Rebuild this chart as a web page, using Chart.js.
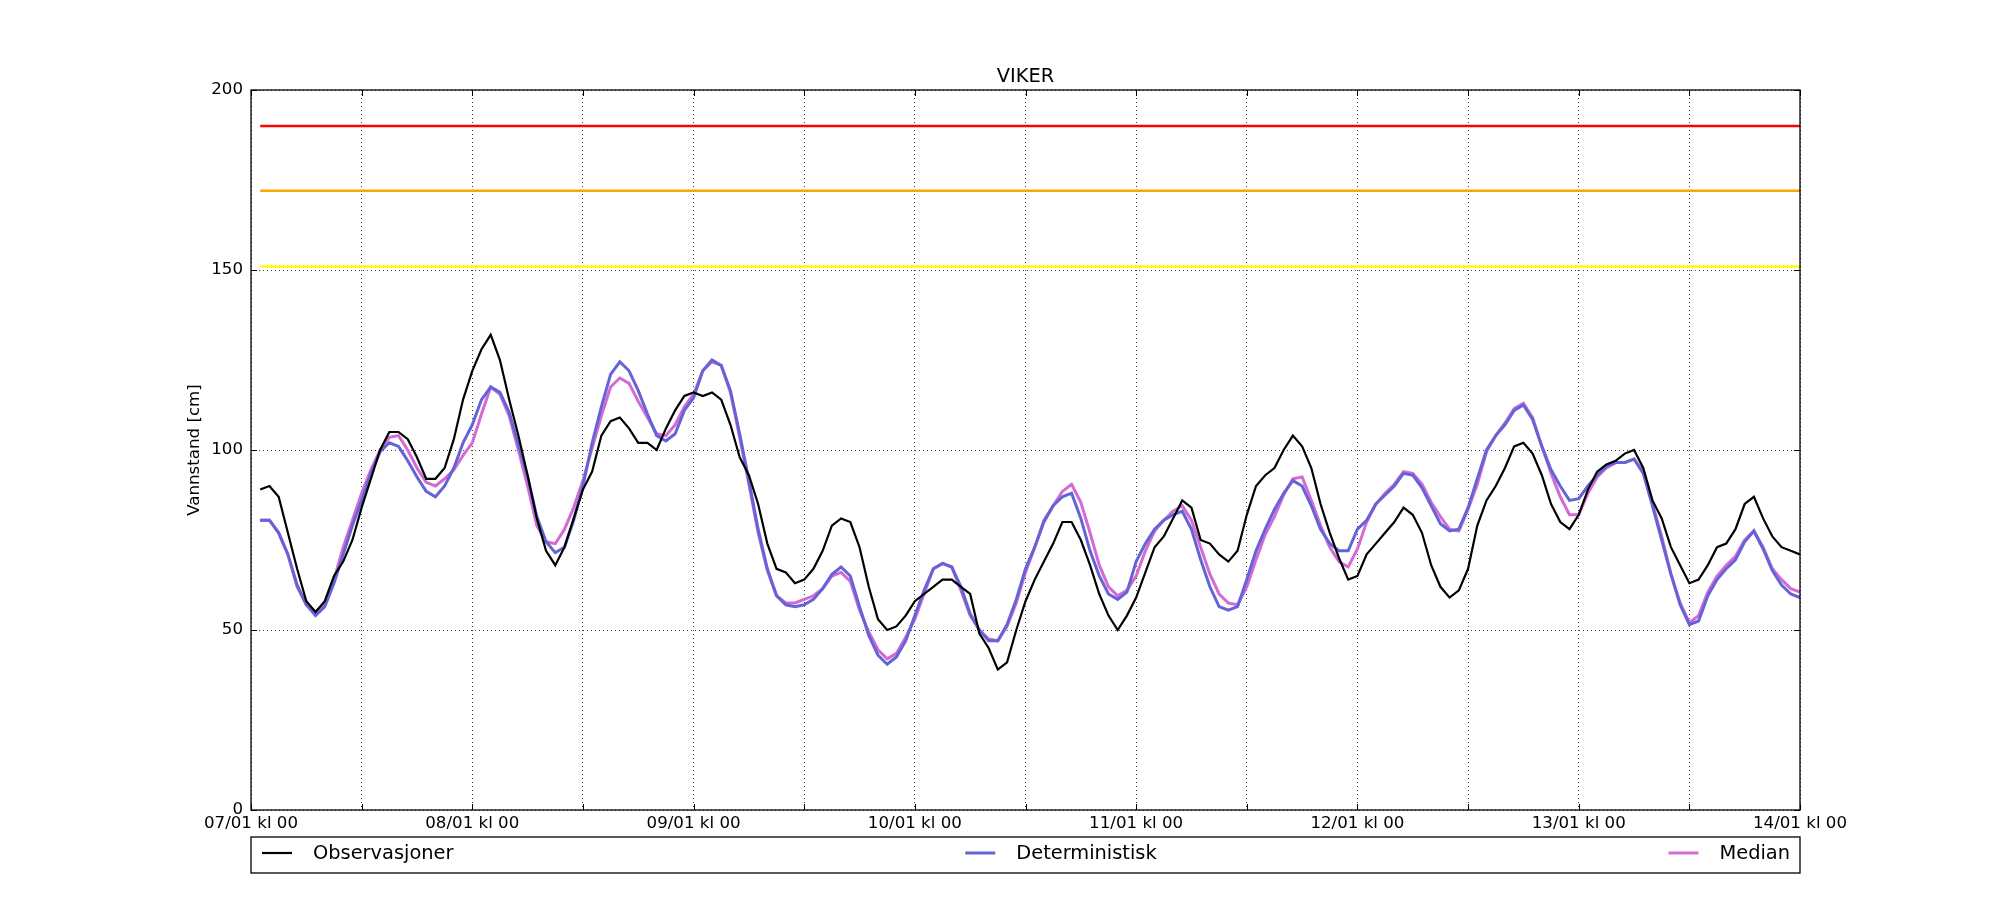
<!DOCTYPE html>
<html>
<head>
<meta charset="utf-8">
<script src="https://cdn.jsdelivr.net/npm/chart.js@4/dist/chart.umd.min.js"></script>
<style>
  body { margin: 0; background: #fff; }
  canvas { display: block; }
</style>
</head>
<body>
<canvas id="vannstand" width="2000" height="900"></canvas>
<script>
const TITLE = "VIKER";
const Y_LABEL = "Vannstand [cm]";
const DAY_LABELS = ["07/01 kl 00", "08/01 kl 00", "09/01 kl 00", "10/01 kl 00",
  "11/01 kl 00", "12/01 kl 00", "13/01 kl 00", "14/01 kl 00"];

// hourly values, first one at 07/01 kl 01, last one at 14/01 kl 00
const observasjoner = [
  89, 90, 87, 77, 67, 58, 55, 58, 65, 69, 75, 84, 92, 100, 105, 105, 103, 98, 92, 92, 95, 103, 114, 122,
  128, 132, 125, 114, 104, 93, 81, 72, 68, 73, 81, 89, 94, 104, 108, 109, 106, 102, 102, 100, 106, 111, 115, 116,
  115, 116, 114, 107, 98, 93, 85, 74, 67, 66, 63, 64, 67, 72, 79, 81, 80, 73, 62, 53, 50, 51, 54, 58,
  60, 62, 64, 64, 62, 60, 49, 45, 39, 41, 50, 58, 64, 69, 74, 80, 80, 75, 68, 60, 54, 50, 54, 59,
  66, 73, 76, 81, 86, 84, 75, 74, 71, 69, 72, 82, 90, 93, 95, 100, 104, 101, 95, 85, 77, 70, 64, 65,
  71, 74, 77, 80, 84, 82, 77, 68, 62, 59, 61, 67, 79, 86, 90, 95, 101, 102, 99, 93, 85, 80, 78, 82,
  89, 94, 96, 97, 99, 100, 95, 86, 81, 73, 68, 63, 64, 68, 73, 74, 78, 85, 87, 81, 76, 73, 72, 71
];

const deterministisk = [
  80.5, 80.5, 77, 71, 62.5, 57, 54, 56.5, 63, 71, 79, 86, 93.5, 99.5, 102, 101, 97, 92.5, 88.5, 87, 90, 95, 102, 107,
  114, 117.5, 116, 110.5, 101.5, 92.5, 81.5, 74.5, 71.5, 73, 80.5, 90, 102, 112, 121, 124.5, 122, 116.5, 110, 104, 102.5, 104.5, 111, 114.5,
  122, 125, 123.5, 116.5, 104.5, 91.5, 78, 67, 59.5, 57, 56.5, 57, 58.5, 61.5, 65.5, 67.5, 65, 56.5, 48.5, 43, 40.5, 42.5, 47, 54,
  61, 67, 68.5, 67.5, 62, 54.5, 50, 47, 47, 51.5, 58.5, 67, 73, 80, 84.5, 87, 88, 81, 72, 65, 60, 58.5, 60.5, 69,
  74, 78, 80.5, 82, 83, 78, 69.5, 62, 56.5, 55.5, 56.5, 64, 72, 78, 83.5, 88, 91.5, 90, 84.5, 78, 74, 72, 72, 78,
  80.5, 85, 87.5, 90, 93.5, 93, 89.5, 84.5, 79.5, 77.5, 78, 84, 92, 100, 104, 107, 111, 112.5, 108.5, 101, 94.5, 90, 86, 86.5,
  90, 93, 95.5, 96.5, 96.5, 97.5, 93.5, 84.5, 75, 65.5, 57, 51.5, 52.5, 59.5, 64, 67, 69.5, 74.5, 77.5, 72.5, 66.5, 62.5, 60, 59
];

const median = [
  80.5, 80.5, 77, 71, 62, 57, 55, 57, 64, 73, 80.5, 88, 94.5, 100, 103.5, 104, 100, 95, 91, 90, 92, 94.5, 98.5, 102,
  110, 117.5, 115.5, 109.5, 100, 90, 79, 74.5, 74, 78, 84, 91.5, 100.5, 109.5, 117.5, 120, 118.5, 113.5, 109, 104.5, 104, 107, 112, 115.5,
  122, 124.5, 123.5, 116, 103.5, 90.5, 77, 66.5, 59.5, 57.5, 57.5, 58.5, 59.5, 61.5, 65, 66, 63.5, 55.5, 49.5, 44.5, 42, 43.5, 48, 53,
  60, 67, 68.5, 67.5, 61, 54, 50, 47.5, 47, 51, 57.5, 66, 73, 80.5, 84.5, 88.5, 90.5, 85.5, 77, 68, 62, 59.5, 61, 65,
  72, 77.5, 80.5, 83, 84.5, 80.5, 73, 65.5, 60, 57.5, 57, 62, 69.5, 76.5, 81.5, 87.5, 92, 92.5, 86, 79, 73, 69, 67.5, 72.5,
  80, 85, 88, 90.5, 94, 93.5, 90.5, 85.5, 81.5, 78, 77.5, 83.5, 90.5, 99.5, 104, 107.5, 111.5, 113, 109, 101, 93.5, 87, 82, 82,
  88, 92.5, 95, 96.5, 96.5, 97.5, 94, 85, 76, 65.5, 57.5, 52, 54, 60.5, 65, 68, 70.5, 75, 77.5, 73, 67, 64, 61.5, 60.5
];

// warning levels (red, orange, yellow)
const varselNivaa = [190, 172, 151];
const varselFarger = ["#ff0000", "#ffa500", "#ffff00"];

const FAMILY = "'DejaVu Sans', sans-serif";
const FONT = { family: FAMILY, size: 16.67 };
const BIG_SIZE = 19.4;

function toPoints(values) {
  return values.map((v, i) => ({ x: i + 1, y: v }));
}

function levelLine(level) {
  return [{ x: 1, y: level }, { x: observasjoner.length, y: level }];
}

let datasets = [
  { label: "Observasjoner", data: toPoints(observasjoner), borderColor: "#000000", borderWidth: 2.2, order: 0, inLegend: true },
  { label: "Deterministisk", data: toPoints(deterministisk), borderColor: "#6464d6", borderWidth: 3, order: 1, inLegend: true },
  { label: "Median", data: toPoints(median), borderColor: "#d46ad4", borderWidth: 3, order: 2, inLegend: true }
];

varselNivaa.forEach((level, i) => {
  datasets.push({ label: "nivaa" + i, data: levelLine(level), borderColor: varselFarger[i], borderWidth: 2.5, order: 3 + i });
});

datasets.forEach(ds => {
  ds.pointRadius = 0;
  ds.tension = 0;
  ds.fill = false;
});

// title over the axes, frame with inward ticks, and the matplotlib style legend under the axes
const axesExtras = {
  id: 'axesExtras',
  afterDatasetsDraw(chart) {
    const { ctx, chartArea: a, scales } = chart;
    ctx.save();
    ctx.strokeStyle = "#000";
    ctx.lineWidth = 1;
    scales.x.ticks.forEach(t => {
      const px = Math.round(scales.x.getPixelForValue(t.value)) + 0.5;
      ctx.beginPath();
      ctx.moveTo(px, a.bottom); ctx.lineTo(px, a.bottom - 6);
      ctx.moveTo(px, a.top); ctx.lineTo(px, a.top + 6);
      ctx.stroke();
    });
    scales.y.ticks.forEach(t => {
      const py = Math.round(scales.y.getPixelForValue(t.value)) + 0.5;
      ctx.beginPath();
      ctx.moveTo(a.left, py); ctx.lineTo(a.left + 6, py);
      ctx.moveTo(a.right, py); ctx.lineTo(a.right - 6, py);
      ctx.stroke();
    });
    ctx.lineWidth = 1.3;
    ctx.strokeRect(a.left, a.top, a.right - a.left, a.bottom - a.top);
    ctx.restore();
  },
  afterDraw(chart) {
    const { ctx, chartArea: a } = chart;
    const items = chart.data.datasets.filter(ds => ds.inLegend);
    const boxTop = 837, boxBottom = 873;
    const midY = 853;
    const handle = 30, handleGap = 21;
    const innerLeft = a.left + 11, innerRight = a.right - 10;

    ctx.save();
    ctx.font = BIG_SIZE + "px " + FAMILY;
    ctx.fillStyle = "#000";
    ctx.textBaseline = "middle";
    ctx.textAlign = "center";
    ctx.fillText(TITLE, (a.left + a.right) / 2, 77);

    ctx.textAlign = "left";
    const widths = items.map(ds => handle + handleGap + ctx.measureText(ds.label).width);
    const total = widths.reduce((s, w) => s + w, 0);
    const gap = (innerRight - innerLeft - total) / (items.length - 1);

    ctx.strokeStyle = "#000";
    ctx.lineWidth = 1.3;
    ctx.strokeRect(a.left, boxTop, a.right - a.left, boxBottom - boxTop);

    let x = innerLeft;
    items.forEach((ds, i) => {
      ctx.beginPath();
      ctx.strokeStyle = ds.borderColor;
      ctx.lineWidth = ds.borderWidth;
      ctx.moveTo(x, midY);
      ctx.lineTo(x + handle, midY);
      ctx.stroke();
      ctx.fillText(ds.label, x + handle + handleGap, midY + 1);
      x += widths[i] + gap;
    });
    ctx.restore();
  }
};

let element = document.getElementById('vannstand');
let options = {
  type: 'line',
  data: { datasets: datasets },
  options: {
    responsive: false,
    animation: false,
    devicePixelRatio: 1,
    layout: { padding: { left: 0, top: 90, right: 200, bottom: 0 } },
    plugins: {
      legend: { display: false },
      tooltip: { enabled: false },
      title: { display: false }
    },
    scales: {
      x: {
        type: 'linear',
        min: 0,
        max: 168,
        afterFit: scale => { scale.height = 90; },
        ticks: {
          stepSize: 12,
          autoSkip: false,
          maxRotation: 0,
          padding: 4,
          color: "#000",
          font: FONT,
          callback: value => value % 24 === 0 ? DAY_LABELS[value / 24] : ''
        },
        grid: { color: "rgba(0,0,0,0.75)", lineWidth: 1, drawTicks: false },
        border: { display: false, dash: [1, 3] }
      },
      y: {
        min: 0,
        max: 200,
        afterFit: scale => { scale.width = 251; },
        ticks: { stepSize: 50, padding: 8, color: "#000", font: FONT },
        grid: { color: "rgba(0,0,0,0.75)", lineWidth: 1, drawTicks: false },
        border: { display: false, dash: [1, 3] },
        title: {
          display: true,
          text: Y_LABEL,
          color: "#000",
          font: FONT,
          padding: { top: 185, bottom: 0 }
        }
      }
    }
  },
  plugins: [axesExtras]
};

let chart = new Chart(element, options);
</script>
</body>
</html>
